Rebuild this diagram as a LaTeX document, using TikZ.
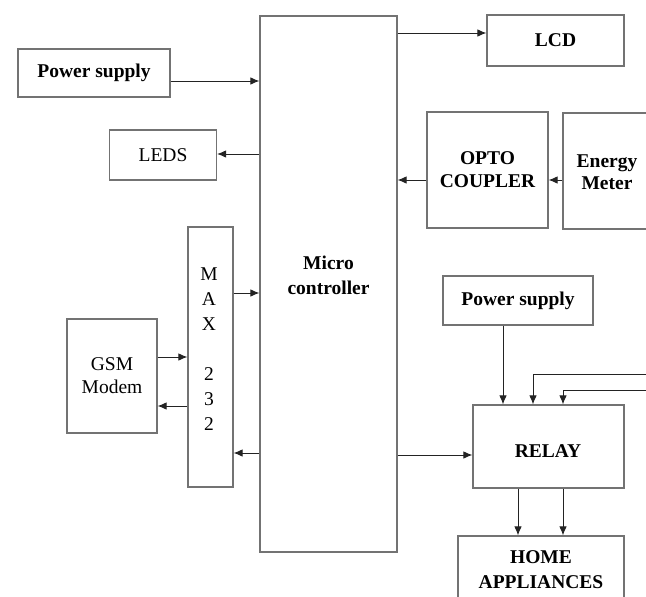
\documentclass[tikz,border=0pt]{standalone}
\usepackage{fontspec}
\setmainfont{Liberation Serif}
\usetikzlibrary{arrows.meta}
\definecolor{boxgray}{RGB}{115,115,115}
\definecolor{arrgray}{RGB}{35,35,35}
\tikzset{
  box/.style={draw=boxgray, line width=1.1pt, inner sep=0pt, align=center, font=\fontsize{19.5}{23}\selectfont},
  bbox/.style={box, font=\fontsize{19.5}{23}\selectfont\bfseries},
  arr/.style={draw=arrgray, line width=1pt, -{Latex[length=9pt,width=7.5pt]}},
}
\begin{document}
\begin{tikzpicture}[x=1pt,y=-1pt]
\useasboundingbox (0,0) rectangle (646,597);
\clip (0,0) rectangle (646,597);
% boxes
\node[box, minimum width=137pt, minimum height=536pt] (mc) at (328.5,284) {};
\node[font=\fontsize{19.5}{25}\selectfont\bfseries, align=center] (mctext) at (328.5,275) {Micro\\controller};
\node[bbox, minimum width=152pt, minimum height=48pt] (ps1) at (94,73) {Power supply};
\node[box, minimum width=107pt, minimum height=50pt] (leds) at (163,155) {LEDS};
\node[bbox, minimum width=137pt, minimum height=51pt] (lcd) at (555.5,40.5) {LCD};
\node[bbox, minimum width=121pt, minimum height=116pt] (opto) at (487.5,170) {OPTO\\COUPLER};
\node[bbox, minimum width=100pt, minimum height=116pt] (em) at (613,171) {};
\node[font=\fontsize{19.5}{22}\selectfont\bfseries, align=center] (emtext) at (607,172) {Energy\\Meter};
\node[box, minimum width=45pt, minimum height=260pt] (max) at (210.5,357) {};
\node[font=\fontsize{19.5}{25}\selectfont, align=center] (maxtext) at (209,349) {M\\A\\X\\[25pt]2\\3\\2};
\node[box, minimum width=90pt, minimum height=114pt] (gsm) at (112,376) {GSM\\Modem};
\node[bbox, minimum width=150pt, minimum height=49pt] (ps2) at (518,300.5) {Power supply};
\node[bbox, minimum width=151pt, minimum height=83pt] (relay) at (548.5,446.5) {};
\node[font=\fontsize{19.5}{23}\selectfont\bfseries] (relaytext) at (548,451) {RELAY};
\node[bbox, minimum width=166pt, minimum height=80pt] (home) at (541,576) {};
\node[font=\fontsize{19.5}{25}\selectfont\bfseries, align=center] (hometext) at (541,570) {HOME\\APPLIANCES};
% connectors
\draw[arr] (ps1.east |- 0,81) -- (mc.west |- 0,81);
\draw[arr] (mc.west |- 0,154) -- (leds.east |- 0,154);
\draw[arr] (mc.east |- 0,33) -- (lcd.west |- 0,33);
\draw[arr] (opto.west |- 0,180) -- (mc.east |- 0,180);
\draw[arr] (em.west |- 0,180) -- (opto.east |- 0,180);
\draw[arr] (max.east |- 0,293) -- (mc.west |- 0,293);
\draw[arr] (mc.west |- 0,453) -- (max.east |- 0,453);
\draw[arr] (gsm.east |- 0,357) -- (max.west |- 0,357);
\draw[arr] (max.west |- 0,406) -- (gsm.east |- 0,406);
\draw[arr] (ps2.south -| 503,0) -- (relay.north -| 503,0);
\coordinate (in1) at (650,374);
\coordinate (in2) at (650,390);
\draw[arr] (in1) -| (relay.north -| 533,0);
\draw[arr] (in2) -| (relay.north -| 563,0);
\draw[arr] (mc.east |- 0,455) -- (relay.west |- 0,455);
\draw[arr] (relay.south -| 518,0) -- (home.north -| 518,0);
\draw[arr] (relay.south -| 563,0) -- (home.north -| 563,0);
\end{tikzpicture}
\end{document}
